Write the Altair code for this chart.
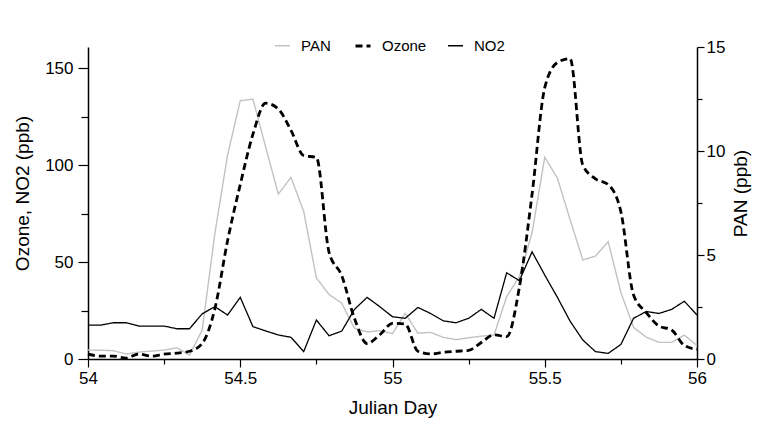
import altair as alt
import pandas as pd

# hourly samples from day 54.0 to day 56.0
hours = list(range(49))

ozone = [2.5, 1.5, 1.5, 0.5, 2.5, 1.5, 2.5, 3, 4,
         8, 26, 61, 90, 116, 132, 129, 118, 105, 104,
         55, 43, 21, 8, 12.5, 18.4, 18, 4, 2.6, 3.5,
         4, 4.5, 8.5, 12.5, 11.5, 37, 85, 140, 153, 155,
         100, 93, 90, 76, 33, 24, 17, 15, 7, 5]

no2 = [17.5, 17.5, 18.7, 18.7, 17, 17, 17, 15.6, 15.6,
       23.3, 27, 22.7, 31.8, 16.7, 14.5, 12.4, 11.2, 3.8, 20.1,
       12, 14.4, 25.6, 31.8, 27, 21.8, 21, 26.6, 23.5, 19.7,
       18.7, 21, 25.6, 21, 44.5, 40.4, 55.3, 43.3, 31.8, 19.5,
       9.8, 3.8, 2.9, 7.5, 21, 24.5, 23.5, 25.6, 29.8, 22.7]

pan = [0.43, 0.42, 0.40, 0.24, 0.33, 0.38, 0.43, 0.54, 0.19,
       1.39, 6.04, 9.8, 12.42, 12.49, 10.2, 7.93, 8.73, 7.1, 3.9,
       3.1, 2.68, 1.48, 1.3, 1.36, 1.22, 2.2, 1.24, 1.28, 1.04,
       0.93, 1.02, 1.1, 1.15, 3.0, 3.96, 6.07, 9.7, 8.69, 6.7,
       4.76, 4.95, 5.64, 3.2, 1.52, 1.05, 0.8, 0.8, 1.15, 0.65]

series_order = ["PAN", "Ozone", "NO2"]
x_ticks = [54, 54.25, 54.5, 54.75, 55, 55.25, 55.5, 55.75, 56]
left_ticks = [0, 25, 50, 75, 100, 125, 150]
right_ticks = [0, 2.5, 5, 7.5, 10, 12.5, 15]

days = [54 + h / 24 for h in hours]
df = pd.DataFrame({
    "day": days * 3,
    "value": ozone + no2 + pan,
    "series": ["Ozone"] * len(hours) + ["NO2"] * len(hours) + ["PAN"] * len(hours),
})

FONT = "Liberation Sans"

legend = alt.Legend(
    title=None, orient="none", legendX=186, legendY=-10, direction="horizontal",
    symbolType="stroke", symbolSize=225, labelFontSize=15, labelFont=FONT,
    labelColor="black", labelOffset=10, columnPadding=18, padding=0,
)

color_enc = alt.Color("series:N", scale=alt.Scale(domain=series_order, range=["#c2c2c2", "#000000", "#000000"]), legend=legend)
dash_enc = alt.StrokeDash("series:N", scale=alt.Scale(domain=series_order, range=[[1, 0], [7, 4], [1, 0]]), legend=legend)
width_enc = alt.StrokeWidth("series:N", scale=alt.Scale(type="ordinal", domain=series_order, range=[1.4, 2.8, 1.3]), legend=legend)

x_enc = alt.X(
    "day:Q",
    scale=alt.Scale(domain=[54, 56], nice=False, zero=False),
    axis=alt.Axis(
        values=x_ticks,
        labelExpr="datum.value % 0.5 === 0 ? format(datum.value, '~g') : ''",
        tickSize={"condition": {"test": "datum.value % 0.5 === 0", "value": 8}, "value": 5},
        labelPadding=3, labelFlush=False,
        title="Julian Day",
        titleX=304.5, titleY=48, titleBaseline="middle",
    ),
)

left_scale = alt.Scale(domain=[0, 161], nice=False, zero=True)

pan_layer = alt.Chart(df).transform_filter("datum.series === 'PAN'").mark_line().encode(
    x=x_enc,
    y=alt.Y(
        "value:Q",
        scale=alt.Scale(domain=[0, 15], nice=False),
        axis=alt.Axis(
            orient="right", values=right_ticks,
            labelExpr="datum.value % 5 === 0 ? format(datum.value, 'd') : ''",
            tickSize={"condition": {"test": "datum.value % 5 === 0", "value": 7}, "value": 5},
            labelPadding=2, labelFlush=False,
            title="PAN (ppb)", titleAngle=270, titleX=43, titleY=146,
            titleBaseline="middle", titleAlign="center",
        ),
    ),
    color=color_enc, strokeDash=dash_enc, strokeWidth=width_enc,
)

no2_layer = alt.Chart(df).transform_filter("datum.series === 'NO2'").mark_line().encode(
    x=x_enc,
    y=alt.Y("value:Q", scale=left_scale, axis=None),
    color=color_enc, strokeDash=dash_enc, strokeWidth=width_enc,
)

ozone_layer = alt.Chart(df).transform_filter("datum.series === 'Ozone'").mark_line(interpolate="monotone").encode(
    x=x_enc,
    y=alt.Y(
        "value:Q",
        scale=left_scale,
        axis=alt.Axis(
            orient="left", values=left_ticks,
            labelExpr="datum.value % 50 === 0 ? format(datum.value, 'd') : ''",
            tickSize={"condition": {"test": "datum.value % 50 === 0", "value": 10}, "value": 7},
            labelPadding=5, labelFlush=False,
            title="Ozone, NO2 (ppb)", titleAngle=270, titleX=-66, titleY=146,
            titleBaseline="middle", titleAlign="center",
        ),
    ),
    color=color_enc, strokeDash=dash_enc, strokeWidth=width_enc,
)

chart = (
    alt.layer(pan_layer, no2_layer, ozone_layer)
    .resolve_scale(y="independent")
    .properties(
        width=609, height=312,
        padding={"left": 88, "top": 47, "right": 63, "bottom": 63},
        autosize=alt.AutoSizeParams(type="none"),
        background="white",
    )
    .configure_view(stroke=None)
    .configure_axis(
        grid=False, labelFont=FONT, labelFontSize=17, labelColor="black",
        titleFont=FONT, titleFontSize=19, titleFontWeight="normal", titleColor="black",
        domainColor="black", domainWidth=1.5, tickColor="black", tickWidth=1.2,
    )
)

chart.save("out.html", embed_options={"renderer": "svg", "actions": False})
